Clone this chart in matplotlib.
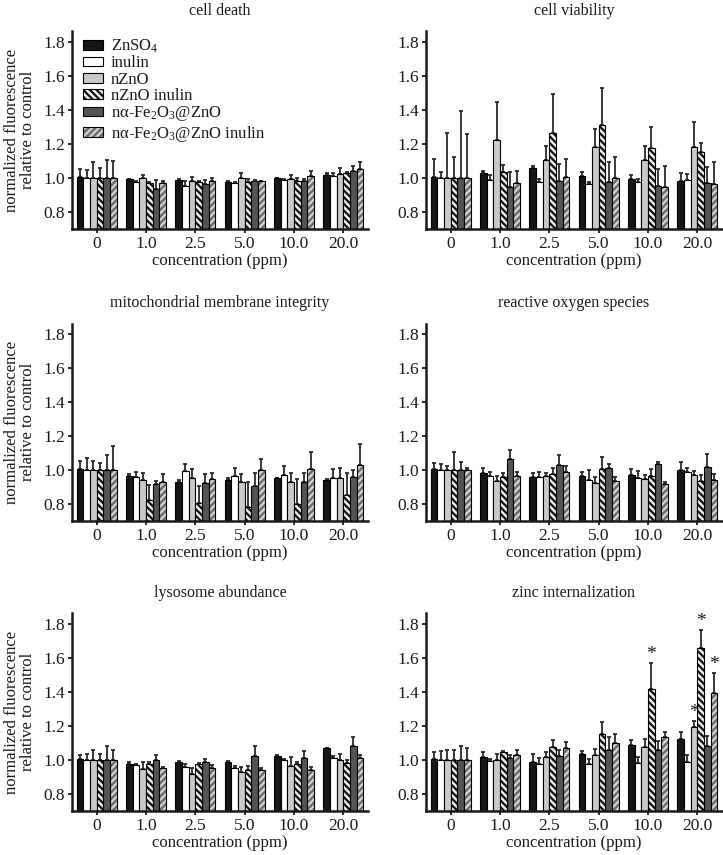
import matplotlib
matplotlib.use('Agg')
import matplotlib.pyplot as plt
from matplotlib.patches import Patch
import numpy as np

plt.rcParams['font.family'] = ['Liberation Serif', 'DejaVu Serif']
plt.rcParams['mathtext.fontset'] = 'custom'
plt.rcParams['mathtext.rm'] = 'Liberation Serif'
plt.rcParams['mathtext.it'] = 'Liberation Serif:italic'
plt.rcParams['hatch.linewidth'] = 1.6
plt.rcParams['text.color'] = '#1a1a1a'
plt.rcParams['axes.labelcolor'] = '#1a1a1a'
plt.rcParams['xtick.color'] = '#1a1a1a'
plt.rcParams['ytick.color'] = '#1a1a1a'

CONCENTRATIONS = ['0', '1.0', '2.5', '5.0', '10.0', '20.0']
TREATMENTS = ['ZnSO$_4$', 'inulin', 'nZnO', 'nZnO inulin',
              'nα-Fe$_2$O$_3$@ZnO', 'nα-Fe$_2$O$_3$@ZnO inulin']
TITLES = ['cell death', 'cell viability', 'mitochondrial membrane integrity',
          'reactive oxygen species', 'lysosome abundance', 'zinc internalization']

# rows = concentration, columns = treatment (same order as TREATMENTS)
CELL_DEATH = [
    [1.008, 1.000, 1.000, 1.000, 1.000, 1.000],
    [0.992, 0.975, 0.998, 0.968, 0.935, 0.969],
    [0.988, 0.955, 0.982, 0.978, 0.963, 0.984],
    [0.978, 0.970, 1.000, 0.975, 0.984, 0.980],
    [0.998, 0.988, 0.996, 0.980, 0.982, 1.012],
    [1.016, 1.014, 1.020, 1.027, 1.040, 1.053],
]
CELL_DEATH_ERR = [
    [0.045, 0.047, 0.096, 0.057, 0.106, 0.100],
    [0.004, 0.004, 0.020, 0.010, 0.050, 0.014],
    [0.004, 0.027, 0.025, 0.006, 0.025, 0.016],
    [0.003, 0.008, 0.027, 0.018, 0.004, 0.004],
    [0.003, 0.008, 0.020, 0.018, 0.012, 0.030],
    [0.015, 0.014, 0.037, 0.008, 0.030, 0.043],
]
VIABILITY = [
    [1.008, 1.000, 1.000, 1.000, 1.000, 1.000],
    [1.027, 0.986, 1.224, 1.035, 0.945, 0.970],
    [1.057, 0.976, 1.106, 1.265, 0.980, 1.006],
    [1.012, 0.965, 1.184, 1.308, 0.975, 1.000],
    [0.994, 0.976, 1.104, 1.176, 0.953, 0.945],
    [0.980, 0.990, 1.184, 1.153, 0.970, 0.963],
]
VIABILITY_ERR = [
    [0.104, 0.035, 0.265, 0.122, 0.392, 0.257],
    [0.016, 0.030, 0.220, 0.040, 0.088, 0.073],
    [0.010, 0.018, 0.084, 0.225, 0.100, 0.104],
    [0.020, 0.012, 0.102, 0.222, 0.120, 0.125],
    [0.024, 0.016, 0.082, 0.124, 0.098, 0.127],
    [0.047, 0.030, 0.145, 0.049, 0.096, 0.133],
]
MITO = [
    [1.005, 1.000, 1.000, 1.000, 1.000, 1.000],
    [0.966, 0.956, 0.940, 0.823, 0.915, 0.932],
    [0.929, 0.991, 0.950, 0.804, 0.925, 0.944],
    [0.942, 0.964, 0.929, 0.780, 0.907, 1.000],
    [0.950, 0.968, 0.930, 0.798, 0.932, 1.007],
    [0.942, 0.950, 0.950, 0.853, 0.956, 1.032],
]
MITO_ERR = [
    [0.047, 0.068, 0.052, 0.040, 0.090, 0.140],
    [0.010, 0.033, 0.040, 0.088, 0.021, 0.045],
    [0.012, 0.043, 0.053, 0.100, 0.049, 0.041],
    [0.008, 0.049, 0.047, 0.150, 0.078, 0.064],
    [0.003, 0.056, 0.054, 0.148, 0.050, 0.097],
    [0.004, 0.053, 0.064, 0.127, 0.043, 0.123],
]
ROS = [
    [1.003, 1.000, 1.000, 0.997, 1.000, 1.000],
    [0.985, 0.966, 0.933, 0.956, 1.063, 0.964],
    [0.960, 0.956, 0.964, 0.974, 1.032, 0.990],
    [0.962, 0.940, 0.921, 1.005, 1.010, 0.938],
    [0.973, 0.954, 0.948, 0.966, 1.034, 0.919],
    [1.002, 0.987, 0.970, 0.933, 1.020, 0.940],
]
ROS_ERR = [
    [0.035, 0.035, 0.025, 0.110, 0.048, 0.010],
    [0.027, 0.023, 0.030, 0.027, 0.053, 0.025],
    [0.020, 0.030, 0.020, 0.040, 0.053, 0.035],
    [0.027, 0.057, 0.040, 0.072, 0.023, 0.023],
    [0.030, 0.040, 0.025, 0.037, 0.010, 0.012],
    [0.043, 0.025, 0.025, 0.035, 0.074, 0.037],
]
LYSOSOME = [
    [1.006, 1.000, 1.000, 1.000, 1.000, 1.000],
    [0.973, 0.970, 0.949, 0.973, 1.000, 0.951],
    [0.986, 0.960, 0.920, 0.973, 0.988, 0.955],
    [0.986, 0.955, 0.929, 0.943, 1.024, 0.941],
    [1.025, 1.000, 0.967, 0.978, 1.014, 0.940],
    [1.067, 1.014, 1.002, 0.984, 1.082, 1.014],
]
LYSOSOME_ERR = [
    [0.025, 0.033, 0.060, 0.035, 0.080, 0.060],
    [0.012, 0.006, 0.040, 0.012, 0.030, 0.010],
    [0.010, 0.014, 0.030, 0.006, 0.018, 0.014],
    [0.006, 0.010, 0.031, 0.022, 0.055, 0.012],
    [0.006, 0.008, 0.051, 0.010, 0.039, 0.020],
    [0.002, 0.010, 0.035, 0.014, 0.050, 0.016],
]
ZINC = [
    [1.008, 1.000, 1.000, 1.000, 1.000, 1.000],
    [1.018, 0.992, 1.000, 1.047, 1.014, 1.027],
    [0.990, 0.975, 1.018, 1.078, 1.022, 1.067],
    [1.037, 0.975, 1.029, 1.151, 1.059, 1.098],
    [1.090, 0.984, 1.078, 1.416, 1.059, 1.135],
    [1.125, 0.990, 1.192, 1.655, 1.084, 1.394],
]
ZINC_ERR = [
    [0.041, 0.053, 0.059, 0.057, 0.082, 0.067],
    [0.031, 0.012, 0.033, 0.006, 0.016, 0.031],
    [0.045, 0.037, 0.031, 0.037, 0.035, 0.039],
    [0.016, 0.033, 0.035, 0.069, 0.073, 0.053],
    [0.025, 0.035, 0.043, 0.151, 0.053, 0.031],
    [0.039, 0.037, 0.035, 0.110, 0.057, 0.118],
]
# (concentration index, treatment index) marked significant
ZINC_STARS = [(4, 3), (5, 2), (5, 3), (5, 5)]

STYLES = [
    {'face': '#161616'},
    {'face': 'white'},
    {'face': '#c9c9c9'},
    {'face': '#ececec', 'hatch': '\\\\\\\\\\', 'hc': '#111111'},
    {'face': '#545454'},
    {'face': '#6c6c6c', 'hatch': '/////', 'hc': '#d6d6d6'},
]
BAR_W = 0.135


def draw_panel(ax, means, errs, stars=()):
    means = np.array(means)
    errs = np.array(errs)
    x = np.arange(len(CONCENTRATIONS))
    for j, st in enumerate(STYLES):
        pos = x + (j - 2.5) * BAR_W
        m, e = means[:, j], errs[:, j]
        ax.errorbar(pos, m, yerr=[np.zeros_like(e), e], fmt='none', ecolor='#2a2a2a',
                    elinewidth=1.3, capsize=1.6, capthick=1.3, zorder=1)
        if 'hatch' in st:
            ax.bar(pos, m, BAR_W, color=st['face'], edgecolor=st['hc'], linewidth=0,
                   hatch=st['hatch'], zorder=2)
            ax.bar(pos, m, BAR_W, fill=False, edgecolor='black', linewidth=0.8, zorder=3)
        else:
            ax.bar(pos, m, BAR_W, color=st['face'], edgecolor='black', linewidth=0.8, zorder=2)
    for gi, tj in stars:
        ax.annotate('*', (gi + (tj - 2.5) * BAR_W, means[gi, tj] + errs[gi, tj]),
                    xytext=(0, 0), textcoords='offset points', ha='center', va='bottom',
                    fontsize=14)

    ax.set_xlim(-0.5, 5.5)
    ax.set_ylim(0.7, 1.86)
    ax.set_yticks([0.8, 1.0, 1.2, 1.4, 1.6, 1.8])
    ax.set_yticklabels(['0.8', '1.0', '1.2', '1.4', '1.6', '1.8'])
    ax.set_xticks(x)
    ax.set_xticklabels(CONCENTRATIONS)
    for side in ['top', 'right']:
        ax.spines[side].set_visible(False)
    for side in ['left', 'bottom']:
        ax.spines[side].set_linewidth(1.8)
        ax.spines[side].set_color('#1a1a1a')
    ax.tick_params(direction='out', length=3, width=1.3, labelsize=12.5, pad=2)
    ax.set_xlabel('concentration (ppm)', fontsize=12, labelpad=1)


fig = plt.figure(figsize=(7.23, 8.55), dpi=100)

panels = [
    (CELL_DEATH, CELL_DEATH_ERR, ()),
    (VIABILITY, VIABILITY_ERR, ()),
    (MITO, MITO_ERR, ()),
    (ROS, ROS_ERR, ()),
    (LYSOSOME, LYSOSOME_ERR, ()),
    (ZINC, ZINC_ERR, ZINC_STARS),
]
lefts = [0.0996, 0.5892]
bottoms = [0.7322, 0.3906, 0.0515]

axes = []
for k, (means, errs, stars) in enumerate(panels):
    row, col = divmod(k, 2)
    ax = fig.add_axes([lefts[col], bottoms[row], 0.4094, 0.2310])
    draw_panel(ax, means, errs, stars)
    ax.set_title(TITLES[k], fontsize=11.5, pad=12)
    if col == 0:
        ax.set_ylabel('normalized fluorescence\nrelative to control', fontsize=12,
                      labelpad=5, linespacing=1.05)
    axes.append(ax)

handles = []
for st in STYLES:
    if 'hatch' in st:
        handles.append((Patch(facecolor=st['face'], edgecolor=st['hc'], linewidth=0,
                              hatch=st['hatch']),
                        Patch(fill=False, edgecolor='black', linewidth=0.8)))
    else:
        handles.append(Patch(facecolor=st['face'], edgecolor='black', linewidth=0.8))
axes[0].legend(handles, TREATMENTS, loc='upper left', bbox_to_anchor=(0.025, 0.985),
               frameon=False, fontsize=12, handlelength=1.2, handleheight=0.5,
               labelspacing=0.02, handletextpad=0.5, borderaxespad=0, borderpad=0.2)

fig.savefig('out.png', dpi=100)
